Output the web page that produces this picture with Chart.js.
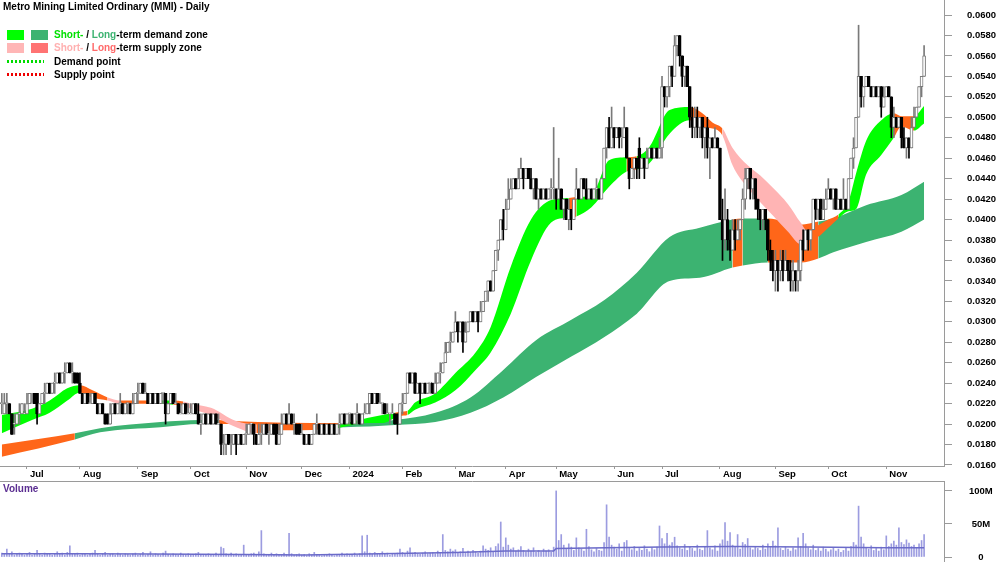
<!DOCTYPE html>
<html><head><meta charset="utf-8">
<script src="https://cdn.jsdelivr.net/npm/chart.js@4.4.1/dist/chart.umd.min.js"></script>
<style>
html,body{margin:0;padding:0;background:#fff;}
#wrap{position:relative;width:1000px;height:562px;overflow:hidden;font-family:"Liberation Sans",Arial,sans-serif;}
#pc{position:absolute;left:0;top:0;}
#vc{position:absolute;left:0;top:480px;}
.t{position:absolute;font-weight:bold;font-size:10px;line-height:12px;white-space:nowrap;color:#000;}
.sw{position:absolute;width:17px;height:10px;}
.dot{position:absolute;width:37px;height:3px;}
</style></head>
<body><div id="wrap">
<canvas id="pc" width="1000" height="480"></canvas>
<canvas id="vc" width="1000" height="82"></canvas>
<div class="t" style="left:3px;top:1px;">Metro Mining Limited Ordinary (MMI) - Daily</div>
<div class="sw" style="left:7px;top:30px;background:#00ff00"></div>
<div class="sw" style="left:31px;top:30px;background:#3cb371"></div>
<div class="t" style="left:54px;top:29px;"><span style="color:#00e000">Short-</span> / <span style="color:#3cb371">Long</span>-term demand zone</div>
<div class="sw" style="left:7px;top:43px;background:#ffb6b6"></div>
<div class="sw" style="left:31px;top:43px;background:#ff7373"></div>
<div class="t" style="left:54px;top:42px;"><span style="color:#ffb0b0">Short-</span> / <span style="color:#ff6a6a">Long</span>-term supply zone</div>
<div class="dot" style="left:7px;top:60px;background:repeating-linear-gradient(90deg,#00dd00 0 2px,transparent 2px 4px)"></div>
<div class="t" style="left:54px;top:56px;">Demand point</div>
<div class="dot" style="left:7px;top:73px;background:repeating-linear-gradient(90deg,#ee0000 0 2px,transparent 2px 4px)"></div>
<div class="t" style="left:54px;top:69px;">Supply point</div>
<div class="t" style="left:3px;top:483px;color:#5b2e91;">Volume</div>
</div>
<script>
// ---- data (prices in $, volume in millions of shares) ----
const openP = [
0.022,0.021,0.022,0.022,0.021,0.020,0.020,0.021,0.021,0.021,
0.021,0.022,0.022,0.023,0.023,0.021,0.022,0.023,0.023,0.024,
0.023,0.024,0.024,0.025,0.024,0.025,0.025,0.026,0.025,0.025,
0.025,0.024,0.023,0.022,0.023,0.022,0.022,0.023,0.022,0.021,
0.022,0.021,0.021,0.020,0.021,0.022,0.021,0.022,0.022,0.021,
0.022,0.022,0.021,0.022,0.023,0.023,0.024,0.023,0.023,0.022,
0.023,0.022,0.023,0.022,0.023,0.023,0.021,0.022,0.023,0.022,
0.022,0.021,0.021,0.022,0.021,0.021,0.021,0.022,0.021,0.020,
0.020,0.021,0.020,0.021,0.020,0.021,0.020,0.020,0.018,0.018,
0.019,0.018,0.018,0.019,0.018,0.019,0.018,0.019,0.019,0.020,
0.020,0.019,0.018,0.019,0.019,0.020,0.019,0.019,0.020,0.020,
0.018,0.019,0.020,0.021,0.020,0.021,0.020,0.020,0.020,0.019,
0.019,0.018,0.019,0.018,0.019,0.020,0.020,0.019,0.020,0.019,
0.020,0.019,0.020,0.019,0.020,0.020,0.021,0.020,0.021,0.021,
0.020,0.021,0.021,0.020,0.021,0.021,0.022,0.023,0.022,0.023,
0.022,0.022,0.022,0.021,0.021,0.021,0.021,0.021,0.020,0.022,
0.022,0.023,0.025,0.024,0.025,0.023,0.024,0.023,0.024,0.023,
0.024,0.024,0.023,0.024,0.025,0.025,0.026,0.027,0.028,0.028,
0.029,0.030,0.029,0.030,0.028,0.029,0.030,0.031,0.030,0.031,
0.030,0.031,0.032,0.033,0.034,0.033,0.035,0.037,0.038,0.040,
0.039,0.041,0.042,0.043,0.044,0.043,0.044,0.045,0.044,0.045,
0.044,0.043,0.044,0.042,0.043,0.042,0.043,0.042,0.043,0.043,
0.043,0.042,0.043,0.041,0.042,0.040,0.041,0.040,0.042,0.043,
0.042,0.044,0.043,0.042,0.043,0.042,0.043,0.043,0.042,0.044,
0.047,0.049,0.047,0.049,0.048,0.049,0.048,0.048,0.049,0.046,
0.044,0.045,0.046,0.047,0.045,0.046,0.045,0.046,0.047,0.046,
0.047,0.046,0.047,0.053,0.052,0.053,0.055,0.054,0.057,0.058,
0.056,0.054,0.055,0.053,0.050,0.049,0.050,0.049,0.050,0.048,
0.049,0.047,0.048,0.047,0.048,0.047,0.040,0.038,0.040,0.038,
0.037,0.039,0.038,0.039,0.040,0.042,0.044,0.045,0.043,0.044,
0.042,0.041,0.040,0.041,0.040,0.037,0.036,0.035,0.036,0.035,
0.036,0.035,0.036,0.035,0.034,0.035,0.034,0.035,0.038,0.037,
0.039,0.038,0.039,0.042,0.041,0.042,0.040,0.041,0.042,0.043,
0.042,0.043,0.041,0.042,0.041,0.042,0.041,0.044,0.046,0.047,
0.050,0.054,0.052,0.053,0.054,0.053,0.052,0.053,0.052,0.053,
0.051,0.052,0.053,0.052,0.049,0.050,0.049,0.050,0.048,0.047,
0.048,0.047,0.049,0.050,0.051,0.053,0.054];
const closeP = [
0.022,0.022,0.022,0.021,0.019,0.020,0.021,0.021,0.022,0.021,
0.022,0.023,0.022,0.022,0.021,0.022,0.023,0.023,0.024,0.023,
0.024,0.024,0.025,0.024,0.025,0.025,0.026,0.025,0.025,0.024,
0.024,0.023,0.022,0.023,0.022,0.022,0.023,0.022,0.021,0.022,
0.021,0.020,0.020,0.021,0.022,0.021,0.022,0.022,0.021,0.022,
0.022,0.021,0.022,0.023,0.023,0.024,0.023,0.023,0.022,0.023,
0.022,0.023,0.022,0.023,0.023,0.021,0.022,0.023,0.022,0.022,
0.021,0.021,0.022,0.021,0.021,0.021,0.022,0.021,0.020,0.020,
0.021,0.020,0.021,0.020,0.021,0.020,0.020,0.018,0.018,0.019,
0.018,0.018,0.019,0.018,0.019,0.018,0.019,0.019,0.020,0.020,
0.019,0.018,0.019,0.019,0.020,0.019,0.019,0.020,0.019,0.018,
0.019,0.020,0.021,0.020,0.021,0.020,0.020,0.019,0.019,0.019,
0.018,0.019,0.018,0.019,0.020,0.020,0.019,0.020,0.019,0.020,
0.019,0.020,0.019,0.020,0.020,0.021,0.020,0.021,0.021,0.020,
0.021,0.021,0.020,0.021,0.021,0.022,0.023,0.022,0.023,0.022,
0.022,0.022,0.021,0.021,0.021,0.021,0.020,0.020,0.022,0.022,
0.023,0.025,0.024,0.025,0.023,0.024,0.023,0.024,0.023,0.024,
0.024,0.023,0.024,0.025,0.025,0.026,0.027,0.028,0.028,0.029,
0.030,0.029,0.030,0.028,0.029,0.030,0.031,0.030,0.031,0.030,
0.031,0.032,0.033,0.034,0.033,0.035,0.037,0.038,0.040,0.039,
0.041,0.042,0.043,0.044,0.043,0.044,0.045,0.044,0.045,0.044,
0.043,0.044,0.042,0.043,0.042,0.043,0.042,0.043,0.043,0.043,
0.042,0.043,0.041,0.042,0.040,0.041,0.040,0.042,0.043,0.042,
0.044,0.043,0.042,0.043,0.042,0.043,0.043,0.042,0.044,0.047,
0.049,0.047,0.049,0.048,0.049,0.048,0.048,0.049,0.046,0.044,
0.045,0.046,0.045,0.045,0.046,0.045,0.046,0.047,0.046,0.047,
0.046,0.047,0.053,0.052,0.053,0.055,0.054,0.057,0.058,0.056,
0.054,0.055,0.053,0.050,0.049,0.050,0.049,0.050,0.048,0.049,
0.047,0.048,0.047,0.048,0.047,0.040,0.038,0.040,0.038,0.037,
0.039,0.038,0.039,0.040,0.042,0.044,0.045,0.043,0.044,0.042,
0.041,0.040,0.041,0.040,0.037,0.036,0.035,0.036,0.035,0.036,
0.035,0.036,0.035,0.034,0.035,0.034,0.035,0.038,0.037,0.039,
0.038,0.039,0.042,0.041,0.042,0.040,0.041,0.042,0.043,0.042,
0.043,0.041,0.042,0.041,0.042,0.041,0.044,0.046,0.047,0.050,
0.054,0.052,0.053,0.054,0.053,0.052,0.053,0.052,0.053,0.051,
0.052,0.053,0.052,0.049,0.050,0.049,0.050,0.048,0.047,0.048,
0.047,0.049,0.050,0.051,0.053,0.054,0.056];
const highP = [
0.023,0.023,0.023,0.022,0.021,0.021,0.021,0.022,0.022,0.022,
0.023,0.023,0.023,0.023,0.023,0.022,0.023,0.024,0.024,0.024,
0.024,0.025,0.025,0.025,0.025,0.026,0.026,0.026,0.026,0.025,
0.025,0.025,0.023,0.023,0.023,0.023,0.023,0.023,0.022,0.022,
0.022,0.021,0.021,0.022,0.022,0.022,0.022,0.023,0.022,0.022,
0.022,0.022,0.023,0.023,0.024,0.024,0.024,0.024,0.023,0.023,
0.023,0.023,0.023,0.023,0.023,0.023,0.022,0.023,0.023,0.023,
0.022,0.022,0.022,0.022,0.022,0.022,0.022,0.022,0.022,0.021,
0.021,0.021,0.021,0.021,0.021,0.021,0.021,0.020,0.019,0.019,
0.019,0.019,0.019,0.019,0.019,0.019,0.019,0.020,0.020,0.020,
0.020,0.019,0.020,0.020,0.020,0.020,0.020,0.020,0.020,0.020,
0.020,0.021,0.021,0.021,0.022,0.021,0.021,0.020,0.020,0.020,
0.019,0.019,0.019,0.019,0.020,0.021,0.020,0.020,0.020,0.020,
0.020,0.020,0.020,0.020,0.021,0.021,0.021,0.021,0.021,0.021,
0.021,0.022,0.021,0.021,0.022,0.022,0.023,0.023,0.023,0.023,
0.023,0.022,0.022,0.022,0.021,0.022,0.021,0.021,0.022,0.023,
0.023,0.025,0.025,0.025,0.025,0.024,0.024,0.024,0.024,0.024,
0.024,0.024,0.025,0.025,0.026,0.026,0.028,0.028,0.029,0.029,
0.031,0.030,0.030,0.030,0.030,0.030,0.031,0.031,0.031,0.031,
0.032,0.032,0.033,0.034,0.034,0.035,0.037,0.038,0.040,0.041,
0.042,0.044,0.044,0.044,0.044,0.045,0.046,0.045,0.045,0.045,
0.045,0.044,0.044,0.043,0.043,0.043,0.043,0.043,0.044,0.049,
0.043,0.046,0.043,0.042,0.042,0.042,0.041,0.042,0.045,0.043,
0.044,0.044,0.044,0.043,0.043,0.043,0.044,0.043,0.044,0.047,
0.049,0.050,0.051,0.049,0.049,0.049,0.049,0.051,0.049,0.046,
0.045,0.046,0.046,0.048,0.046,0.046,0.047,0.047,0.047,0.047,
0.047,0.048,0.054,0.053,0.053,0.055,0.055,0.058,0.058,0.058,
0.056,0.055,0.055,0.053,0.051,0.051,0.051,0.050,0.050,0.049,
0.050,0.048,0.048,0.049,0.048,0.047,0.042,0.043,0.041,0.039,
0.040,0.040,0.040,0.040,0.043,0.045,0.045,0.045,0.044,0.044,
0.042,0.041,0.041,0.041,0.040,0.038,0.037,0.037,0.036,0.037,
0.037,0.037,0.036,0.036,0.036,0.035,0.036,0.038,0.039,0.039,
0.039,0.039,0.042,0.042,0.042,0.042,0.042,0.043,0.044,0.043,
0.043,0.043,0.042,0.042,0.044,0.042,0.044,0.046,0.048,0.050,
0.059,0.054,0.053,0.054,0.054,0.053,0.053,0.053,0.053,0.053,
0.053,0.053,0.053,0.052,0.051,0.050,0.050,0.050,0.049,0.048,
0.048,0.050,0.051,0.051,0.053,0.054,0.057];
const lowP = [
0.021,0.021,0.021,0.021,0.019,0.019,0.020,0.020,0.021,0.021,
0.021,0.022,0.022,0.022,0.020,0.021,0.022,0.022,0.023,0.023,
0.023,0.023,0.024,0.024,0.024,0.024,0.025,0.025,0.024,0.024,
0.024,0.023,0.022,0.022,0.022,0.022,0.022,0.022,0.021,0.021,
0.021,0.020,0.020,0.020,0.021,0.021,0.021,0.021,0.021,0.021,
0.021,0.021,0.021,0.022,0.022,0.023,0.023,0.023,0.022,0.022,
0.022,0.022,0.022,0.022,0.022,0.020,0.021,0.022,0.022,0.022,
0.021,0.021,0.021,0.021,0.021,0.021,0.021,0.021,0.020,0.019,
0.020,0.020,0.020,0.020,0.020,0.020,0.020,0.017,0.017,0.017,
0.018,0.017,0.018,0.017,0.018,0.018,0.018,0.018,0.019,0.019,
0.018,0.018,0.018,0.018,0.019,0.019,0.018,0.019,0.019,0.018,
0.018,0.019,0.020,0.020,0.020,0.020,0.019,0.019,0.019,0.019,
0.018,0.018,0.018,0.018,0.019,0.019,0.019,0.019,0.019,0.019,
0.019,0.019,0.019,0.019,0.019,0.020,0.020,0.020,0.020,0.020,
0.020,0.020,0.020,0.020,0.021,0.021,0.021,0.022,0.022,0.022,
0.022,0.021,0.021,0.021,0.020,0.021,0.020,0.019,0.020,0.021,
0.022,0.023,0.024,0.024,0.023,0.023,0.022,0.023,0.023,0.023,
0.023,0.023,0.023,0.024,0.024,0.025,0.026,0.027,0.027,0.028,
0.029,0.028,0.029,0.027,0.028,0.029,0.030,0.030,0.030,0.029,
0.030,0.031,0.032,0.032,0.033,0.033,0.035,0.036,0.038,0.038,
0.039,0.041,0.042,0.043,0.043,0.043,0.044,0.043,0.044,0.044,
0.043,0.042,0.042,0.041,0.042,0.042,0.042,0.042,0.042,0.042,
0.041,0.042,0.041,0.040,0.040,0.039,0.039,0.040,0.042,0.042,
0.042,0.043,0.042,0.042,0.042,0.042,0.042,0.042,0.042,0.044,
0.046,0.047,0.047,0.047,0.048,0.047,0.047,0.048,0.046,0.043,
0.044,0.044,0.044,0.044,0.045,0.044,0.045,0.046,0.046,0.046,
0.046,0.046,0.046,0.051,0.051,0.052,0.053,0.054,0.056,0.055,
0.053,0.053,0.053,0.049,0.048,0.048,0.048,0.048,0.047,0.046,
0.046,0.044,0.047,0.047,0.047,0.040,0.036,0.037,0.037,0.036,
0.037,0.037,0.038,0.038,0.040,0.041,0.043,0.042,0.042,0.041,
0.040,0.039,0.039,0.039,0.036,0.035,0.034,0.033,0.033,0.034,
0.034,0.035,0.034,0.033,0.033,0.033,0.033,0.034,0.036,0.037,
0.037,0.037,0.039,0.040,0.040,0.040,0.040,0.041,0.042,0.042,
0.041,0.041,0.041,0.041,0.041,0.041,0.041,0.044,0.045,0.047,
0.050,0.051,0.051,0.053,0.053,0.052,0.052,0.052,0.052,0.050,
0.051,0.052,0.052,0.048,0.048,0.049,0.049,0.047,0.047,0.046,
0.046,0.047,0.049,0.050,0.051,0.052,0.054];
const volumeM = [
6,4,12,5,8,3,4,6,5,3, 4,7,3,5,10,4,3,6,4,5, 3,5,8,4,6,3,7,17,5,4,
6,3,4,5,3,4,6,10,4,3, 5,7,3,4,5,3,6,4,3,5, 4,3,5,6,3,4,7,3,4,8,
3,5,4,3,6,9,4,3,5,4, 3,6,4,3,5,4,3,5,7,4, 3,4,5,3,4,6,3,15,13,5,
4,6,3,5,4,3,18,4,3,5, 6,4,8,40,5,3,4,6,3,5, 4,3,6,4,36,5,3,4,5,3,
4,2,5,3,7,4,3,2,4,3, 5,3,2,4,3,6,4,5,3,4, 6,3,5,32,8,33,6,4,7,5,
4,8,5,6,3,5,4,6,12,7, 5,9,14,6,7,5,4,6,8,5, 6,7,5,9,6,34,10,8,12,9,
11,7,8,13,6,9,7,10,8,6, 9,17,12,10,14,8,16,20,53,15, 29,18,12,14,9,11,16,10,8,12,
9,14,7,10,8,12,9,11,7,15, 100,25,34,18,12,20,15,10,29,14, 12,9,42,16,11,8,13,10,9,22,
79,30,18,15,12,20,9,22,25,14, 11,16,9,13,10,17,12,8,14,11, 15,47,28,20,36,18,22,30,17,14,
12,19,10,15,13,9,18,12,10,16, 40,14,11,17,9,20,26,52,24,37, 18,15,34,12,22,19,28,14,11,16,
13,10,18,12,20,15,24,17,44,13, 10,15,12,9,14,11,29,16,36,20, 14,11,18,10,13,9,15,12,8,11,
14,9,12,7,10,13,9,16,22,18, 77,30,20,14,12,17,10,13,9,15, 11,32,16,20,24,18,44,22,19,26,
21,16,18,14,20,25,34];
const volAvgIdx = [0, 30, 60, 96, 120, 150, 180, 200, 219, 220, 240, 262, 290, 320, 350, 366];
const volAvgM   = [5, 5, 4.5, 4, 3, 5, 7, 9, 9, 13, 14, 15, 16, 15, 14, 14];

// short-term band (upper / lower edges) and zone type: G demand, O supply, P weak supply
const shortIdx = [0,12,19,26,31,36,42,47,55,60,62,68,72,75,83,93,101,108,119,127,133,135,145,151,156,158,161,164,172,180,188,194,202,210,218,225,228,234,241,248,252,257,265,273,278,282,286,290,296,301,306,312,317,320,323,328,332,336,339,343,349,354,357,362,366];
const shortHi = [0.0209,0.0215,0.0223,0.0235,0.0238,0.0233,0.0226,0.0223,0.0223,0.0223,0.0223,0.0223,0.0222,0.0220,0.0216,0.0203,0.0200,0.0200,0.0200,0.0198,0.0199,0.0200,0.0206,0.0209,0.0211,0.0212,0.0213,0.0221,0.0230,0.0250,0.0270,0.0295,0.0354,0.0400,0.0419,0.0421,0.0422,0.0424,0.0458,0.0461,0.0462,0.0471,0.0507,0.0510,0.0504,0.0495,0.0489,0.0470,0.0453,0.0443,0.0431,0.0415,0.0397,0.0388,0.0393,0.0400,0.0405,0.0418,0.0445,0.0477,0.0497,0.0504,0.0501,0.0501,0.0511];
const shortLo = [0.0191,0.0204,0.0211,0.0223,0.0231,0.0226,0.0223,0.0220,0.0220,0.0220,0.0220,0.0219,0.0218,0.0215,0.0209,0.0197,0.0191,0.0194,0.0194,0.0195,0.0196,0.0197,0.0201,0.0201,0.0206,0.0208,0.0209,0.0214,0.0221,0.0233,0.0253,0.0270,0.0308,0.0360,0.0397,0.0402,0.0403,0.0412,0.0432,0.0447,0.0449,0.0455,0.0484,0.0497,0.0490,0.0489,0.0482,0.0453,0.0431,0.0417,0.0404,0.0388,0.0376,0.0381,0.0382,0.0392,0.0401,0.0408,0.0410,0.0444,0.0463,0.0480,0.0491,0.0487,0.0494];
const shortZone = ['G','G','G','G','O','O','P','O','O','G','G','O','P','P','P','P','O','O','O','O','G','G','G','G','O','O','G','G','G','G','G','G','G','G','G','O','G','G','G','O','G','G','G','O','O','O','P','P','P','P','P','P','P','O','O','O','G','G','G','G','G','O','O','G','G'];
// long-term band
const longIdx = [0,29,39,63,79,86,91,134,136,156,172,186,199,212,226,239,252,265,277,290,294,304,317,324,330,343,357,366];
const longHi = [0.0180,0.0191,0.0196,0.0202,0.0204,0.0204,0.0203,0.0201,0.0201,0.0204,0.0211,0.0226,0.0253,0.0282,0.0302,0.0321,0.0348,0.0383,0.0392,0.0400,0.0401,0.0401,0.0395,0.0398,0.0401,0.0414,0.0424,0.0437];
const longLo = [0.0168,0.0185,0.0192,0.0197,0.0200,0.0200,0.0200,0.0197,0.0197,0.0199,0.0202,0.0211,0.0226,0.0246,0.0266,0.0285,0.0308,0.0340,0.0343,0.0353,0.0355,0.0358,0.0358,0.0362,0.0368,0.0378,0.0388,0.0400];
const longZone = ['O','D','D','D','D','O','O','D','D','D','D','D','D','D','D','D','D','D','D','O','D','O','O','D','D','D','D','D'];

const monthTickIdx = [10,31,54,75,97,119,138,159,180,200,220,243,262,285,307,328,351];
const monthLabels = ["Jul","Aug","Sep","Oct","Nov","Dec","2024","Feb","Mar","Apr","May","Jun","Jul","Aug","Sep","Oct","Nov"];
const priceTicks = [0.0160,0.0180,0.0200,0.0220,0.0240,0.0260,0.0280,0.0300,0.0320,0.0340,0.0360,0.0380,0.0400,0.0420,0.0440,0.0460,0.0480,0.0500,0.0520,0.0540,0.0560,0.0580,0.0600];
const volTicks = [0, 50, 100];

// ---- build ----
const FONT = '"Liberation Sans", Arial, sans-serif';
const X_MIN = -0.714, X_MAX = 373.9;
const ZC = {G:'#00ff00', O:'#ff6619', P:'#ffb4b4', D:'#3cb371'};
const CLEAR = 'rgba(0,0,0,0)';
const pts = (ix, v) => ix.map((x, k) => ({x: x, y: v[k]}));
const isUp = openP.map((o, i) => closeP[i] >= o);
const wickData = openP.map((o, i) => ({x: i, y: [lowP[i], highP[i]]}));
const bodyData = openP.map((o, i) => ({x: i, y: [o, closeP[i]]}));
const upCol = '#7a7a7a';
const noPad = s => { s.paddingTop = 0; s.paddingBottom = 0; s.paddingLeft = 0; s.paddingRight = 0; };

function bandLine(ix, v, order) {
  return {type:'line', data: pts(ix, v), borderColor: CLEAR, borderWidth: 1, pointRadius: 0,
          fill: false, order: order, cubicInterpolationMode: 'monotone'};
}
function bandFill(ix, v, zones, order) {
  return {type:'line', data: pts(ix, v), borderColor: CLEAR, borderWidth: 1, pointRadius: 0,
          fill: '-1', order: order, cubicInterpolationMode: 'monotone',
          backgroundColor: ZC[zones[0]],
          segment: {backgroundColor: ctx => ZC[zones[ctx.p0DataIndex]], borderColor: () => CLEAR}};
}
const axisFont = {family: FONT, size: 9.5, weight: 'bold'};

new Chart(document.getElementById('pc'), {
  type: 'bar',
  data: { datasets: [
    bandLine(longIdx, longHi, 20),
    bandFill(longIdx, longLo, longZone, 19),
    bandLine(shortIdx, shortHi, 18),
    bandFill(shortIdx, shortLo, shortZone, 17),
    {type:'bar', data: wickData, grouped:false, barThickness:1, borderWidth:0,
     backgroundColor: isUp.map(u => u ? upCol : '#000'), order: 2},
    {type:'bar', data: bodyData, grouped:false, barThickness:3, borderWidth:1, borderSkipped:false,
     minBarLength:1, backgroundColor: isUp.map(u => u ? '#ffffff' : '#000'),
     borderColor: isUp.map(u => u ? upCol : '#000'), order: 1}
  ]},
  options: {
    responsive:false, animation:false, events:[],
    layout:{padding:0, autoPadding:false},
    plugins:{legend:{display:false}, tooltip:{enabled:false}, title:{display:false}},
    scales:{
      x:{type:'linear', min:X_MIN, max:X_MAX, offset:false, position:'bottom',
         afterBuildTicks: s => { s.ticks = monthTickIdx.map(v => ({value:v})); },
         afterFit: s => { s.height = 14; noPad(s); },
         ticks:{autoSkip:false, maxRotation:0, minRotation:0, align:'start', labelOffset:3, padding:0,
                font: axisFont, color:'#000', callback:(v, i) => monthLabels[i]},
         grid:{display:true, drawOnChartArea:false, drawTicks:true, tickLength:3, color:'#9a9a9a', offset:false},
         border:{display:true, color:'#9a9a9a'}},
      y:{type:'linear', position:'right', min:0.015902, max:0.061467,
         afterBuildTicks: s => { s.ticks = priceTicks.map(v => ({value:v})); },
         afterFit: s => { s.width = 56; noPad(s); },
         ticks:{crossAlign:'center', padding:15, font: axisFont, color:'#000', callback: v => v.toFixed(4)},
         grid:{display:true, drawOnChartArea:false, drawTicks:true, tickLength:8, color:'#9a9a9a'},
         border:{display:true, color:'#9a9a9a'}}
    }
  }
});

new Chart(document.getElementById('vc'), {
  type: 'bar',
  data: { datasets: [
    {type:'line', data: pts(volAvgIdx, volAvgM), borderColor:'#6b6bc9', borderWidth:1.5, pointRadius:0, fill:false, order:0},
    {type:'bar', data: volumeM.map((v, i) => ({x:i, y:v})), grouped:false, barThickness:1,
     backgroundColor:'#9c9ce0', borderWidth:0, order:1}
  ]},
  options: {
    responsive:false, animation:false, events:[],
    layout:{padding:0, autoPadding:false},
    plugins:{legend:{display:false}, tooltip:{enabled:false}},
    scales:{
      x:{type:'linear', min:X_MIN, max:X_MAX, offset:false, position:'top',
         afterFit: s => { s.height = 1; noPad(s); },
         ticks:{display:false}, grid:{display:false, offset:false},
         border:{display:true, color:'#9a9a9a'}},
      y:{type:'linear', position:'right', min:-7.5, max:115,
         afterBuildTicks: s => { s.ticks = volTicks.map(v => ({value:v})); },
         afterFit: s => { s.width = 56; noPad(s); },
         ticks:{crossAlign:'center', padding:17, font: axisFont, color:'#000',
                callback: v => v === 0 ? '0' : v + 'M'},
         grid:{display:true, drawOnChartArea:false, drawTicks:true, tickLength:8, color:'#9a9a9a'},
         border:{display:true, color:'#9a9a9a'}}
    }
  }
});
</script>
</body></html>
